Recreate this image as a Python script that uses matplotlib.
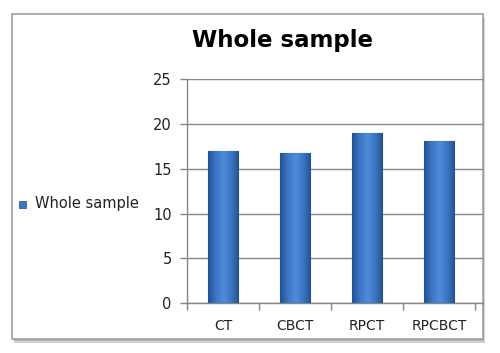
import matplotlib
matplotlib.use("Agg")
import matplotlib.pyplot as plt
import numpy as np
from matplotlib.patches import Rectangle
from matplotlib.colors import LinearSegmentedColormap

categories = ["CT", "CBCT", "RPCT", "RPCBCT"]
values = [17.0, 16.8, 19.0, 18.1]
yticks = [0, 5, 10, 15, 20, 25]
series_name = "Whole sample"
title = "Whole sample"

plt.rcParams['font.family'] = ['DejaVu Sans']

W, H = 500, 353
fig = plt.figure(figsize=(W/100, H/100), dpi=100)
fig.patch.set_facecolor("white")

# chart frame with shadow
for i, a in enumerate([0.08, 0.12, 0.18]):
    fig.patches.append(Rectangle((12/W + i*0.002, 14/H - 0.004 - i*0.003), 471/W, 325/H,
                                 transform=fig.transFigure, facecolor=(0, 0, 0, a),
                                 edgecolor="none", zorder=-3))
fig.patches.append(Rectangle((12/W, 14/H), 471/W, 325/H, transform=fig.transFigure,
                             facecolor="white", edgecolor="#a0a0a0", lw=1.2, zorder=-2))

ax = fig.add_axes([187/W, 1 - 303.3/H, 296/W, (303.3 - 79)/H])
ax.set_zorder(1)
ax.set_facecolor("none")
x = np.arange(len(categories))
bars = ax.bar(x, values, width=0.42, color="#3A77C6", edgecolor="#2A5A9C", lw=0.8, zorder=3)

# cylindrical gradient shading clipped to each bar
grad = np.linspace(0, 1, 64)
cmap = LinearSegmentedColormap.from_list("b", ["#24518F", "#3A77C6", "#4E8BD8", "#3A77C6", "#24518F"])
for b in bars:
    img = ax.imshow(grad[None, :], cmap=cmap, aspect="auto",
                    extent=(b.get_x(), b.get_x() + b.get_width(), 0, b.get_height()),
                    zorder=3.5)
    img.set_clip_path(b)

ax.set_xlim(-0.5, 3.61)
ax.set_ylim(0, 25)
ax.set_yticks(yticks)
ax.set_yticklabels([str(v) for v in yticks], fontsize=10.5, color="#222222")
ax.yaxis.grid(True, color="#868686", lw=1.0, zorder=0)
ax.set_axisbelow(True)
ax.set_xticks(x)
ax.set_xticklabels(categories, fontsize=10, color="#222222")
ax.tick_params(axis="x", length=0, pad=11)
ax.tick_params(axis="y", length=5, color="#868686", width=1, pad=6)
ax.set_xticks(np.arange(-0.5, len(categories), 1.0), minor=True)
ax.tick_params(axis="x", which="minor", length=5, color="#868686", width=1)
for s in ["top", "right"]:
    ax.spines[s].set_visible(False)
for s in ["left", "bottom"]:
    ax.spines[s].set_color("#868686")
    ax.spines[s].set_linewidth(1.0)

fig.text(283/W, 1 - 40/H, title, ha="center", va="center", fontsize=16.5, fontweight="bold", color="black")

# legend
fig.patches.append(Rectangle((19/W, 1 - 208/H), 7/W, 7/H, transform=fig.transFigure,
                             facecolor="#3A77C6", edgecolor="#2A5A9C", lw=0.6))
fig.text(35/W, 1 - 203/H, series_name, ha="left", va="center", fontsize=10.5, color="#222222")

fig.savefig("out.png", dpi=100)
